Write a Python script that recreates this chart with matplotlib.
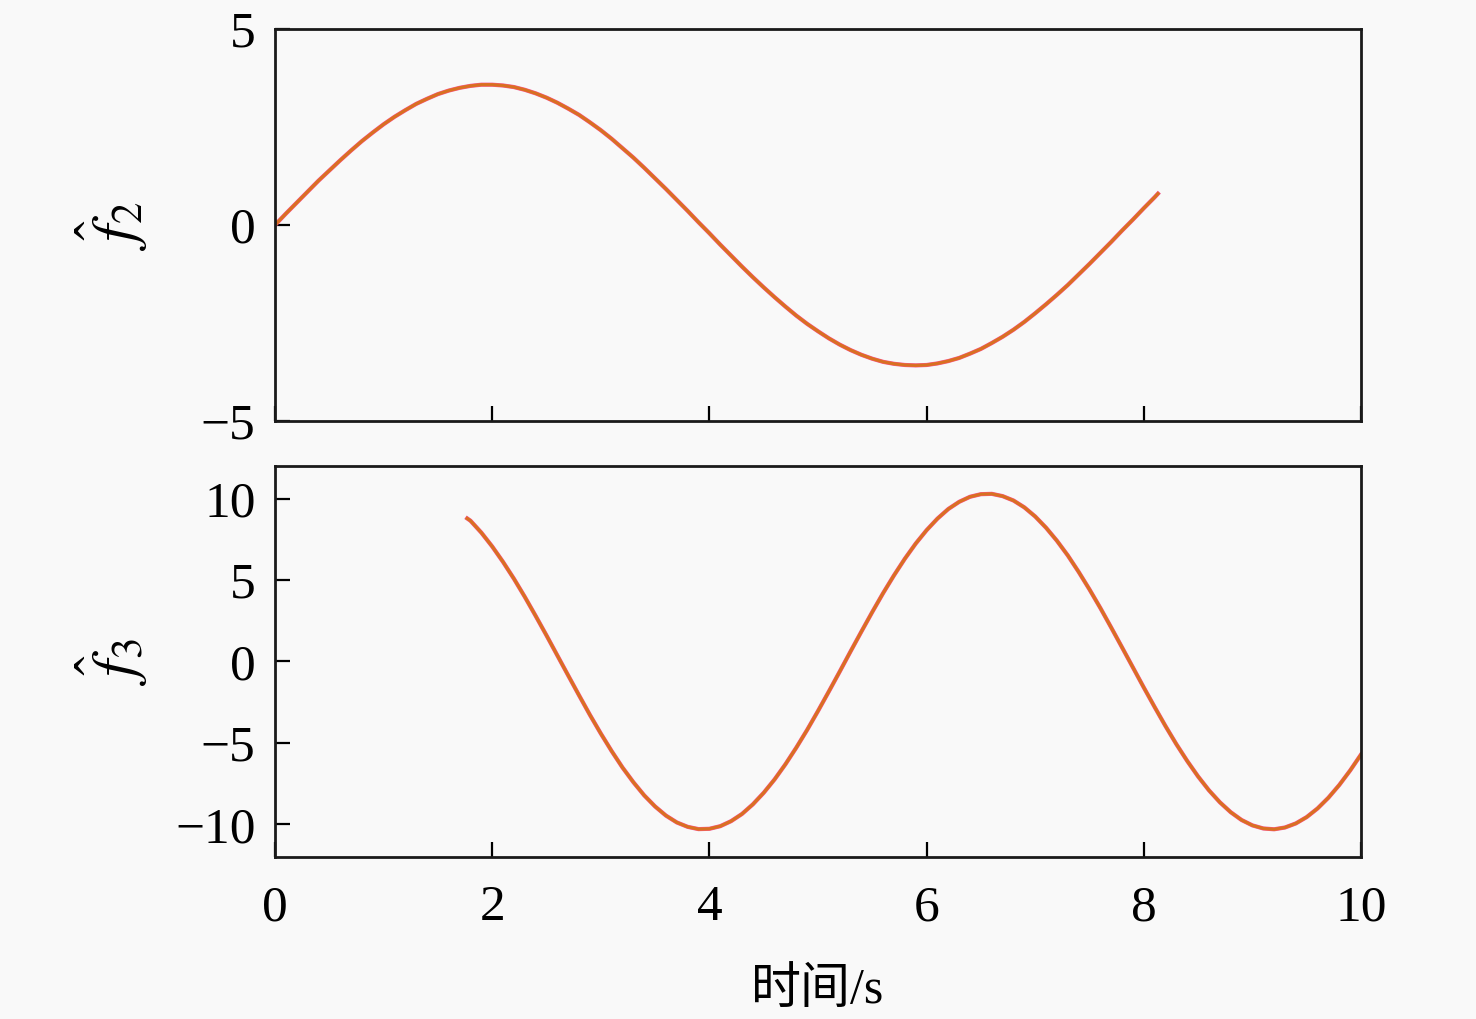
import matplotlib
matplotlib.use('Agg')
import matplotlib.pyplot as plt

# values
t2 = [0.0, 0.1, 0.2, 0.3, 0.4, 0.5, 0.6, 0.7, 0.8, 0.9,
      1.0, 1.1, 1.2, 1.3, 1.4, 1.5, 1.6, 1.7, 1.8, 1.9,
      2.0, 2.1, 2.2, 2.3, 2.4, 2.5, 2.6, 2.7, 2.8, 2.9,
      3.0, 3.1, 3.2, 3.3, 3.4, 3.5, 3.6, 3.7, 3.8, 3.9,
      4.0, 4.1, 4.2, 4.3, 4.4, 4.5, 4.6, 4.7, 4.8, 4.9,
      5.0, 5.1, 5.2, 5.3, 5.4, 5.5, 5.6, 5.7, 5.8, 5.9,
      6.0, 6.1, 6.2, 6.3, 6.4, 6.5, 6.6, 6.7, 6.8, 6.9,
      7.0, 7.1, 7.2, 7.3, 7.4, 7.5, 7.6, 7.7, 7.8, 7.9,
      8.0, 8.1, 8.13]
f2 = [0.0, 0.29, 0.57, 0.85, 1.13, 1.39, 1.65, 1.90, 2.14, 2.36,
      2.57, 2.76, 2.93, 3.09, 3.22, 3.34, 3.43, 3.50, 3.55, 3.58,
      3.58, 3.56, 3.52, 3.45, 3.36, 3.25, 3.12, 2.97, 2.81, 2.62,
      2.42, 2.20, 1.96, 1.72, 1.46, 1.19, 0.92, 0.64, 0.36, 0.07,
      -0.21, -0.50, -0.78, -1.06, -1.33, -1.59, -1.84, -2.08, -2.31, -2.52,
      -2.71, -2.89, -3.05, -3.19, -3.31, -3.41, -3.49, -3.54, -3.57, -3.58,
      -3.57, -3.53, -3.47, -3.39, -3.28, -3.16, -3.01, -2.85, -2.67, -2.47,
      -2.25, -2.02, -1.78, -1.53, -1.26, -0.99, -0.71, -0.43, -0.14, 0.14,
      0.43, 0.71, 0.80]

t3 = [1.77, 1.8, 1.9,
      2.0, 2.1, 2.2, 2.3, 2.4, 2.5, 2.6, 2.7, 2.8, 2.9,
      3.0, 3.1, 3.2, 3.3, 3.4, 3.5, 3.6, 3.7, 3.8, 3.9,
      4.0, 4.1, 4.2, 4.3, 4.4, 4.5, 4.6, 4.7, 4.8, 4.9,
      5.0, 5.1, 5.2, 5.3, 5.4, 5.5, 5.6, 5.7, 5.8, 5.9,
      6.0, 6.1, 6.2, 6.3, 6.4, 6.5, 6.6, 6.7, 6.8, 6.9,
      7.0, 7.1, 7.2, 7.3, 7.4, 7.5, 7.6, 7.7, 7.8, 7.9,
      8.0, 8.1, 8.2, 8.3, 8.4, 8.5, 8.6, 8.7, 8.8, 8.9,
      9.0, 9.1, 9.2, 9.3, 9.4, 9.5, 9.6, 9.7, 9.8, 9.9,
      10.0]
f3 = [8.78, 8.64, 7.91,
      7.06, 6.11, 5.08, 3.97, 2.80, 1.60, 0.37, -0.86, -2.08, -3.28,
      -4.42, -5.50, -6.51, -7.41, -8.22, -8.90, -9.46, -9.88, -10.15, -10.29,
      -10.27, -10.11, -9.80, -9.36, -8.77, -8.06, -7.24, -6.31, -5.29, -4.20,
      -3.04, -1.84, -0.62, 0.62, 1.84, 3.04, 4.20, 5.29, 6.31, 7.24,
      8.06, 8.77, 9.36, 9.80, 10.11, 10.27, 10.29, 10.15, 9.88, 9.46,
      8.90, 8.21, 7.41, 6.51, 5.50, 4.42, 3.28, 2.08, 0.86, -0.37,
      -1.60, -2.80, -3.97, -5.08, -6.11, -7.06, -7.91, -8.64, -9.25, -9.73,
      -10.06, -10.25, -10.30, -10.19, -9.94, -9.55, -9.02, -8.36, -7.58, -6.69,
      -5.71]

xticks = [0, 2, 4, 6, 8, 10]
yticks_top = [-5, 0, 5]
yticks_bot = [-10, -5, 0, 5, 10]

plt.rcParams['font.family'] = ['Liberation Serif', 'Noto Sans CJK SC']
plt.rcParams['mathtext.fontset'] = 'stix'
plt.rcParams['axes.unicode_minus'] = True

bg = '#f9f9f9'
fig = plt.figure(figsize=(14.76, 10.19), dpi=100, facecolor=bg)
ax1 = fig.add_axes([0.1863, 0.5868, 0.7358, 0.3847], facecolor=bg)
ax2 = fig.add_axes([0.1863, 0.1590, 0.7358, 0.3837], facecolor=bg)

for ax, t, f in [(ax1, t2, f2), (ax2, t3, f3)]:
    ax.plot(t, f, color='#f0559a', lw=3.0)
    ax.plot(t, f, color='#6b7d96', lw=1.4)
    ax.plot(t, f, color='#e8700f', lw=2.4, alpha=0.85)
    ax.set_xlim(0, 10)
    ax.set_xticks(xticks)
    ax.tick_params(direction='in', length=11, width=1.6, labelsize=37, pad=14,
                   top=False, right=False)
    ax.tick_params(axis='x', pad=20)
    for s in ax.spines.values():
        s.set_linewidth(2.0)
        s.set_color('#1a1a1a')

ax1.set_ylim(-5, 5)
ax1.set_yticks(yticks_top)
ax1.tick_params(axis='x', labelbottom=False)
ax1.set_ylabel(r'$\hat{f}_2$', fontsize=44)
ax1.yaxis.set_label_coords(-0.115, 0.5)

ax2.set_ylim(-12, 12)
ax2.set_yticks(yticks_bot)
ax2.set_ylabel(r'$\hat{f}_3$', fontsize=44)
ax2.yaxis.set_label_coords(-0.115, 0.5)
ax2.set_xlabel('时间/s', fontsize=36, labelpad=26)

fig.savefig('out.png', dpi=100, facecolor=bg)
